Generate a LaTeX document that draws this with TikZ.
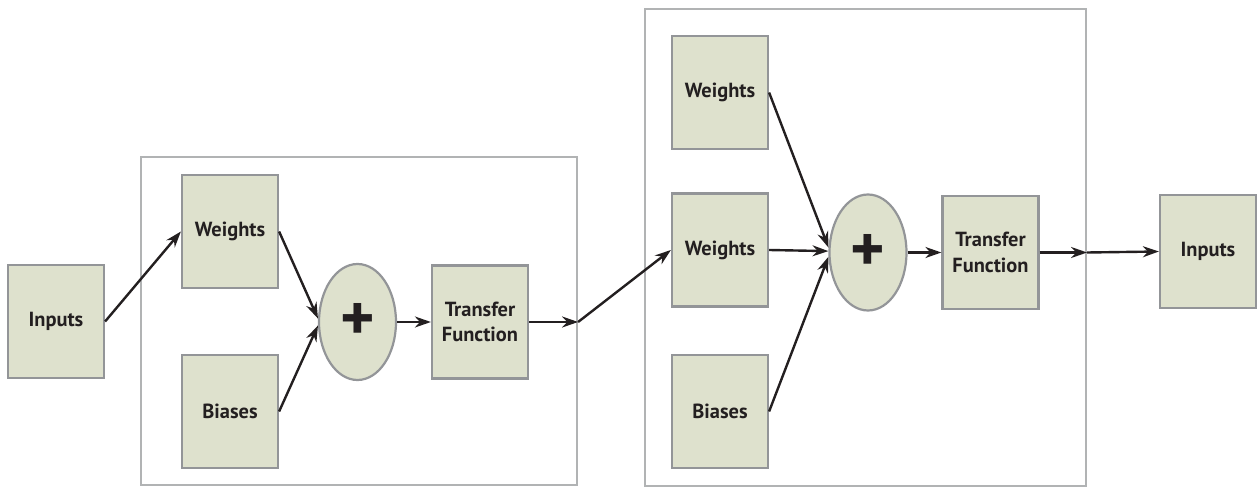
\documentclass[tikz,border=0pt]{standalone}
\usepackage{fontspec}
\setmainfont{PT Sans}
\usetikzlibrary{shapes.geometric, arrows.meta, positioning}
\definecolor{boxfill}{HTML}{DEE1CD}
\definecolor{boxline}{HTML}{939598}
\definecolor{frameline}{HTML}{B1B3B4}
\definecolor{inkdark}{HTML}{231F20}

\begin{document}
\begin{tikzpicture}[
    x=1bp, y=-1bp,
    block/.style={rectangle, draw=boxline, fill=boxfill, line width=2.2bp, minimum width=96bp, minimum height=113bp, inner sep=0pt, align=center, text=inkdark, font=\bfseries\fontsize{20.5}{25.5}\selectfont},
    sum/.style={ellipse, draw=boxline, fill=boxfill, line width=2.2bp, minimum width=77bp, minimum height=116bp, inner sep=0pt, text=inkdark, font=\bfseries\fontsize{66}{66}\selectfont},
    layer/.style={rectangle, draw=frameline, line width=2.2bp, inner sep=0pt},
    arrow/.style={-{Stealth[length=16bp, width=11bp]}, line width=2.4bp, draw=inkdark}
]
\useasboundingbox (0,0) rectangle (1258,487);

% Layer frames
\node[layer, minimum width=436bp, minimum height=328bp] (frame1) at (359,321) {};
\node[layer, minimum width=441bp, minimum height=477bp] (frame2) at (865.5,247.5) {};

% Input
\node[block] (in) at (56,321.5) {Inputs};

% Layer 1
\node[block] (w1) at (230,231.5) {Weights};
\node[block] (b1) at (230,411.5) {Biases};
\node[sum] (plus1) at (357.5,322) {+};
\node[block] (tf1) at (480,322) {Transfer\\Function};

% Layer 2
\node[block] (w2a) at (720,92.5) {Weights};
\node[block] (w2b) at (720,250) {Weights};
\node[block] (b2) at (720,411.5) {Biases};
\node[sum] (plus2) at (868,252.5) {+};
\node[block] (tf2) at (990.5,252.5) {Transfer\\Function};

% Output
\node[block] (out) at (1208,251.5) {Inputs};

\coordinate (exit1) at (frame1.east |- tf1.east);
\coordinate (exit2) at (frame2.east |- tf2.east);

\draw[arrow] (in.east) -- (w1.west);
\draw[arrow] (w1.east) -- (plus1.175);
\draw[arrow] (b1.east) -- (plus1.185);
\draw[arrow] (plus1.east) -- (tf1.west);
\draw[arrow] (tf1.east) -- (exit1);
\draw[arrow] (exit1) -- (w2b.west);

\draw[arrow] (w2a.east) -- (plus2.173);
\draw[arrow] (w2b.east) -- (plus2.178);
\draw[arrow] (b2.east) -- (plus2.186);
\draw[arrow] (plus2.east) -- (tf2.west);
\draw[arrow] (tf2.east) -- (exit2);
\draw[arrow] (exit2) -- (out.west);

\end{tikzpicture}
\end{document}
